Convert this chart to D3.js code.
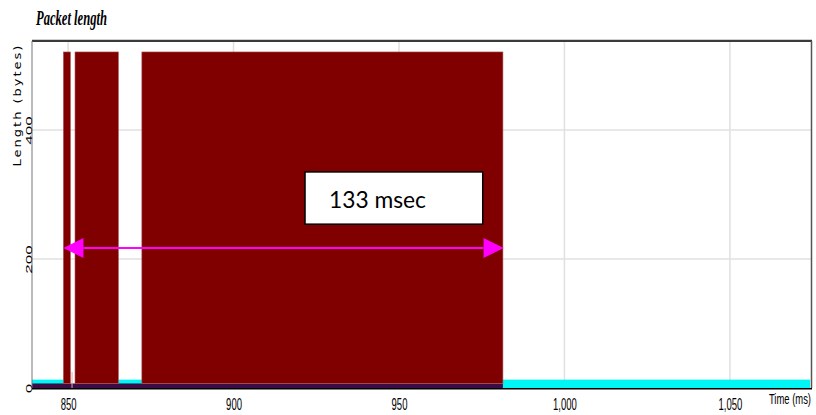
<!DOCTYPE html>
<html><head><meta charset="utf-8">
<script src="https://cdn.jsdelivr.net/npm/d3@7"></script>
<style>body{margin:0;background:#fff}</style>
</head><body><svg id="chart" width="816" height="415"></svg>
<script>
// Data bursts: start / end time (ms) and packet length (bytes)
const dataStart = [848.6, 852.1, 872.3];
const dataEnd   = [850.7, 865.2, 981.4];
const dataLength = 521;
// Acknowledgement traffic between and after the bursts
const ackStart = [839.1, 865.2, 981.4];
const ackEnd   = [848.6, 872.3, 1074.2];
const ackLength = 13;
// Control packets under the bursts
const ctrlStart = [839.1];
const ctrlEnd   = [981.4];
const ctrlLength = 7;
// Single short packet
const strayTime = [851.2];
const strayLength = [25];
// Axis ticks
const xTicks = [850, 900, 950, 1000, 1050];
const yTicks = [0, 200, 400];
// Measured span annotation
const spanStart = 848.6;
const spanMsec = 133;
const spanLevel = 217;
const noteTime = [921.6, 975.3];
const noteLevel = [335, 254];

const svg = d3.select("#chart");
const L = 32, R = 811, T = 41, B = 388;
const x = d3.scaleLinear().domain([839.1, 1074.5]).range([L, R]);
const y = d3.scaleLinear().domain([0, 538]).range([B, T]);

// Title
svg.append("text").attr("x", 36).attr("y", 25)
  .attr("font-family", "Liberation Serif").attr("font-style", "italic").attr("font-weight", "bold")
  .attr("font-size", 22).attr("textLength", 71).attr("lengthAdjust", "spacingAndGlyphs")
  .attr("fill", "#000").text("Packet length");

// Grid
const grid = svg.append("g").attr("stroke", "#e0e0e0").attr("stroke-width", 1.5);
grid.selectAll("line.v").data(xTicks).join("line").attr("class", "v")
  .attr("x1", d => x(d)).attr("x2", d => x(d)).attr("y1", T).attr("y2", B);
grid.selectAll("line.h").data(yTicks.filter(d => d > 0)).join("line").attr("class", "h")
  .attr("x1", L).attr("x2", R).attr("y1", d => y(d)).attr("y2", d => y(d));

// Packet marks
const marks = svg.append("g");
marks.selectAll("rect.ack").data(ackStart).join("rect").attr("class", "ack")
  .attr("x", (d, i) => x(d)).attr("width", (d, i) => x(ackEnd[i]) - x(d))
  .attr("y", y(ackLength)).attr("height", y(0) - y(ackLength)).attr("fill", "#00f5f5");
marks.selectAll("rect.ctrl").data(ctrlStart).join("rect").attr("class", "ctrl")
  .attr("x", d => x(d)).attr("width", (d, i) => x(ctrlEnd[i]) - x(d))
  .attr("y", y(ctrlLength)).attr("height", y(0) - y(ctrlLength)).attr("fill", "#3b0c45");
marks.selectAll("rect.data").data(dataStart).join("rect").attr("class", "data")
  .attr("x", d => x(d)).attr("width", (d, i) => x(dataEnd[i]) - x(d))
  .attr("y", y(dataLength)).attr("height", y(ctrlLength) - y(dataLength))
  .attr("fill", "#800000").attr("stroke", "#a85050").attr("stroke-width", 0.6);
marks.selectAll("line.stray").data(strayTime).join("line").attr("class", "stray")
  .attr("x1", d => x(d)).attr("x2", d => x(d))
  .attr("y1", (d, i) => y(strayLength[i])).attr("y2", y(0))
  .attr("stroke", "#e0a8a8").attr("stroke-width", 1);

// Frame
svg.append("line").attr("x1", L).attr("x2", R + 1).attr("y1", T - 1.5).attr("y2", T - 1.5).attr("stroke", "#cfcfcf").attr("stroke-width", 1);
svg.append("line").attr("x1", L).attr("x2", R + 1).attr("y1", T).attr("y2", T).attr("stroke", "#3a3a3a").attr("stroke-width", 2);
svg.append("line").attr("x1", R + 0.5).attr("x2", R + 0.5).attr("y1", T).attr("y2", B).attr("stroke", "#555").attr("stroke-width", 1.5);
svg.append("line").attr("x1", L).attr("x2", L).attr("y1", T).attr("y2", B).attr("stroke", "#777").attr("stroke-width", 1);

// X axis
const xAxis = svg.append("g").attr("transform", `translate(0,${B + 0.8})`)
  .call(d3.axisBottom(x).tickValues(xTicks).tickSize(0).tickFormat(d3.format(",")));
xAxis.select(".domain").attr("stroke", "#000").attr("stroke-width", 1.6)
  .attr("d", `M${L},0H${R + 1}`);
xAxis.selectAll(".tick text").attr("y", 21).attr("dy", null)
  .attr("font-family", "Liberation Sans").attr("font-size", 17).attr("fill", "#000")
  .attr("transform", "scale(0.56,1)");
svg.append("text").attr("transform", `translate(811,404) scale(0.63,1)`)
  .attr("text-anchor", "end").attr("font-family", "Liberation Sans").attr("font-size", 15)
  .attr("fill", "#000").text("Time (ms)");

// Y axis
const yAxis = svg.append("g").attr("transform", `translate(${L},0)`)
  .call(d3.axisLeft(y).tickValues(yTicks).tickSize(0));
yAxis.select(".domain").remove();
yAxis.selectAll(".tick text").attr("x", null).attr("dy", null)
  .attr("text-anchor", "middle").attr("font-family", "Liberation Sans").attr("font-size", 17)
  .attr("fill", "#000").attr("transform", "translate(-0.5,0) scale(0.58,1) rotate(-90)");
svg.append("text").attr("transform", "translate(21,105) scale(0.78,1) rotate(-90)")
  .attr("text-anchor", "middle").attr("font-family", "DejaVu Sans").attr("font-size", 13)
  .attr("letter-spacing", 2.0).attr("fill", "#000").text("Length (bytes)");

// Span annotation
const ann = svg.append("g");
const ax0 = x(spanStart), ax1 = x(spanStart + spanMsec), ay = y(spanLevel);
const head = 20, half = 10;
ann.append("line").attr("x1", ax0 + head).attr("x2", ax1 - head).attr("y1", ay).attr("y2", ay)
  .attr("stroke", "#ff00ff").attr("stroke-width", 2);
ann.append("path").attr("fill", "#ff00ff")
  .attr("d", `M${ax0},${ay}L${ax0 + head},${ay - half}L${ax0 + head},${ay + half}Z`);
ann.append("path").attr("fill", "#ff00ff")
  .attr("d", `M${ax1},${ay}L${ax1 - head},${ay - half}L${ax1 - head},${ay + half}Z`);
ann.append("rect").attr("x", x(noteTime[0])).attr("y", y(noteLevel[0]))
  .attr("width", x(noteTime[1]) - x(noteTime[0])).attr("height", y(noteLevel[1]) - y(noteLevel[0]))
  .attr("fill", "#fff").attr("stroke", "#000").attr("stroke-width", 1.5);
ann.append("text").attr("x", x(noteTime[0]) + 24).attr("y", y(noteLevel[0]) + 36.5)
  .attr("font-family", "Lato").attr("font-size", 24).attr("fill", "#000")
  .attr("textLength", 97).attr("lengthAdjust", "spacingAndGlyphs")
  .text(`${spanMsec} msec`);
</script>
</body></html>
